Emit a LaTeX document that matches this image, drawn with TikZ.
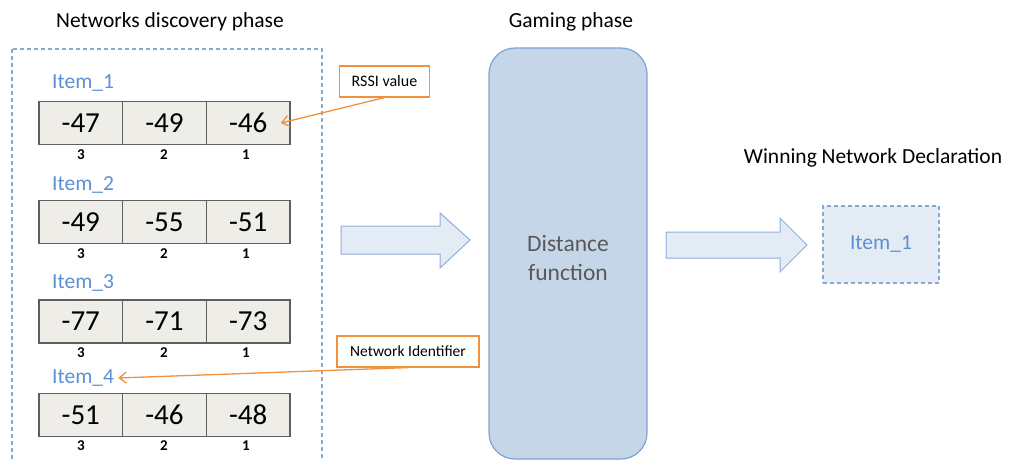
\documentclass[tikz,border=0pt]{standalone}
\usepackage{fontspec}
\setmainfont{Carlito}
\usetikzlibrary{arrows.meta}

\definecolor{cellfill}{HTML}{EFEDE8}
\definecolor{cellline}{HTML}{5F5F5F}
\definecolor{itemblue}{HTML}{5B8FD6}
\definecolor{calloutorange}{HTML}{F0913C}
\definecolor{frameblue}{HTML}{8AA8CC}
\definecolor{gamefill}{HTML}{C5D6E9}
\definecolor{gameline}{HTML}{7FA3CF}
\definecolor{arrowfill}{HTML}{E3EBF5}
\definecolor{arrowline}{HTML}{8FAEDA}
\definecolor{textgray}{HTML}{595959}

\begin{document}
\begin{tikzpicture}[x=1pt,y=-1pt,
  cell/.style={draw=cellline, line width=1.6pt, fill=cellfill,
    minimum width=83.7pt, minimum height=43pt, inner sep=0pt,
    font=\fontsize{29}{30}\selectfont},
  itemlabel/.style={anchor=west, text=itemblue, inner sep=0pt,
    font=\fontsize{21.5}{23}\selectfont},
  idx/.style={inner sep=0pt, font=\fontsize{15}{16}\selectfont\bfseries},
  title/.style={inner sep=0pt, font=\fontsize{21.5}{23}\selectfont},
  callout/.style={draw=calloutorange, line width=1.2pt, fill=white,
    minimum height=31pt, inner sep=0pt},
  pointer/.style={draw=calloutorange, line width=1.3pt,
    -{Straight Barb[length=7pt,width=11pt]}},
  bigarrow/.style={draw=arrowline, line width=1pt, fill=arrowfill}
]
\useasboundingbox (0,0) rectangle (1012,460);
\clip (0,0) rectangle (1012,460);

% phase titles
\node[title] (ttl-discovery) at (170,22) {Networks discovery phase};
\node[title] (ttl-gaming) at (571,22) {Gaming phase};
\node[title] (ttl-winner) at (873,158) {Winning Network Declaration};

% discovery frame
\draw[frameblue, line width=1.2pt, dash pattern=on 4pt off 3pt]
  (12,49) rectangle (322,480);

% scanned networks: RSSI samples 3,2,1
\foreach \r/\ly/\y/\ny/\a/\b/\c in {
    1/83/123/155/-47/-49/-46,
    2/185/222/254/-49/-55/-51,
    3/283/321.5/353/-77/-71/-73,
    4/378/415/446/-51/-46/-48} {
  \node[itemlabel] (item\r) at (52,\ly) {Item\_\r};
  \node[cell] (c\r a) at (80.8,\y) {\a};
  \node[cell] (c\r b) at (164.5,\y) {\b};
  \node[cell] (c\r c) at (248.2,\y) {\c};
  \node[idx] (n\r a) at (81,\ny) {3};
  \node[idx] (n\r b) at (164,\ny) {2};
  \node[idx] (n\r c) at (246,\ny) {1};
}

% callouts
\node[callout, minimum width=90pt, font=\fontsize{16}{17}\selectfont]
  (rssi) at (384.5,81.5) {RSSI value};
\node[callout, minimum width=142pt, font=\fontsize{15.5}{17}\selectfont]
  (netid) at (408,351.5) {Network Identifier};
\draw[pointer] (rssi.south) -- ([xshift=-10pt]c1c.east);
\draw[pointer] (netid.south) -- ([xshift=4pt]item4.east);

% flow arrows
\draw[bigarrow] (341,226) -- (440,226) -- (440,213) -- (470,240)
  -- (440,268) -- (440,254) -- (341,254) -- cycle;
\draw[bigarrow] (666,232) -- (780,232) -- (780,218) -- (807,245)
  -- (780,272) -- (780,258) -- (666,258) -- cycle;

% gaming phase
\draw[draw=gameline, line width=1.2pt, fill=gamefill, rounded corners=26pt]
  (489,48) rectangle (647,459);
\node[inner sep=0pt, text=textgray, align=center,
  font=\fontsize{23.5}{29}\selectfont] (dist) at (568,258)
  {Distance\\function};

% winning network
\node[draw=frameblue, line width=1.2pt, dash pattern=on 4pt off 3pt,
  fill=arrowfill, minimum width=116pt, minimum height=77pt, inner sep=0pt,
  text=itemblue, font=\fontsize{21.5}{23}\selectfont] (winner) at (881,244.5)
  {Item\_1};
\end{tikzpicture}
\end{document}
